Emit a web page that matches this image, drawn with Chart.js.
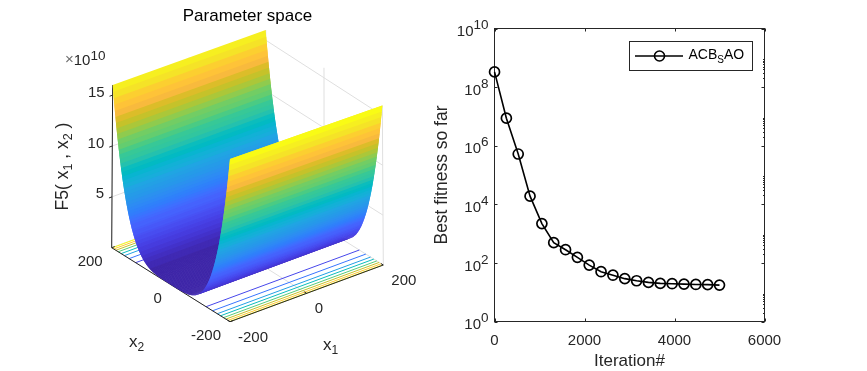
<!DOCTYPE html>
<html>
<head>
<meta charset="utf-8">
<title>Parameter space</title>
<script src="https://cdn.jsdelivr.net/npm/chart.js@4"></script>
<style>
  html, body { margin: 0; padding: 0; background: #fff; overflow: hidden; }
  #wrap { position: relative; width: 867px; height: 371px; overflow: hidden; }
  canvas { position: absolute; top: 0; }
  #surface-chart { left: 0; }
  #fitness-chart { left: 420px; }
</style>
</head>
<body>
<div id="wrap">
  <canvas id="surface-chart" width="495" height="371"></canvas>
  <canvas id="fitness-chart" width="447" height="372"></canvas>
</div>
<script>
// fitness curve (right)
const iterations = [1, 264, 527, 790, 1053, 1316, 1579, 1842, 2105, 2368, 2632, 2895, 3158, 3421, 3684, 3947, 4211, 4474, 4737, 5000];
const fitness = [3.3e8, 8.7e6, 5.2e5, 1.9e4, 2200, 490, 282, 155, 84, 50, 38, 29, 24.6, 21.6, 20, 19.5, 18.8, 18.4, 18.1, 17.5];
const fitnessXTicks = [0, 2000, 4000, 6000];
const fitnessYExponents = [0, 2, 4, 6, 8, 10];
const minorMultipliers = [2, 3, 4, 5, 6, 7, 8, 9];

// surface (left), heights in units of 1e10 for |x2| = 0, 2, 4 ... 200
const surfaceHeights = [
  0, 0, 0, 0, 0, 0, 0, 0, 0.001, 0.001,
  0.002, 0.002, 0.003, 0.005, 0.006, 0.008, 0.010, 0.013, 0.017, 0.021,
  0.026, 0.031, 0.037, 0.045, 0.053, 0.063, 0.073, 0.085, 0.098, 0.113,
  0.130, 0.148, 0.168, 0.190, 0.214, 0.240, 0.269, 0.300, 0.334, 0.370,
  0.410, 0.452, 0.498, 0.547, 0.600, 0.656, 0.716, 0.781, 0.849, 0.922,
  1.000, 1.082, 1.170, 1.262, 1.360, 1.464, 1.574, 1.689, 1.811, 1.939,
  2.074, 2.215, 2.364, 2.520, 2.684, 2.856, 3.036, 3.224, 3.421, 3.627,
  3.842, 4.066, 4.300, 4.544, 4.798, 5.063, 5.338, 5.624, 5.922, 6.232,
  6.554, 6.887, 7.234, 7.593, 7.966, 8.352, 8.752, 9.166, 9.595, 10.039,
  10.498, 10.972, 11.462, 11.969, 12.492, 13.032, 13.590, 14.165, 14.758, 15.370,
  16.000
];
const x1Ticks = [-200, 0, 200];
const x2Ticks = [-200, 0, 200];
const zTicks = [5, 10, 15];
const zTop = 16;
const contourLevels = [2, 4, 6, 8, 10, 12, 14, 16];
const contourOffsets = [119, 141, 157, 168, 178, 186, 193, 199];

const parula = [
  [.2422,.1504,.6603],[.2504,.1650,.7076],[.2578,.1818,.7511],[.2647,.1978,.7952],[.2706,.2147,.8364],[.2751,.2342,.8710],[.2783,.2559,.8991],[.2803,.2782,.9221],
  [.2813,.3006,.9414],[.2810,.3228,.9579],[.2795,.3447,.9717],[.2760,.3667,.9829],[.2699,.3892,.9906],[.2602,.4123,.9952],[.2440,.4358,.9988],[.2206,.4603,.9973],
  [.1963,.4847,.9892],[.1834,.5074,.9798],[.1786,.5289,.9682],[.1764,.5499,.9520],[.1687,.5703,.9359],[.1540,.5902,.9218],[.1460,.6091,.9079],[.1380,.6276,.8973],
  [.1248,.6459,.8883],[.1113,.6635,.8763],[.0952,.6798,.8598],[.0689,.6948,.8394],[.0297,.7082,.8163],[.0036,.7203,.7917],[.0067,.7312,.7660],[.0433,.7411,.7394],
  [.0964,.7500,.7120],[.1408,.7584,.6842],[.1717,.7670,.6554],[.1938,.7758,.6251],[.2161,.7843,.5923],[.2470,.7918,.5567],[.2906,.7973,.5188],[.3406,.8008,.4789],
  [.3909,.8029,.4354],[.4456,.8024,.3909],[.5044,.7993,.3480],[.5616,.7942,.3045],[.6174,.7876,.2612],[.6720,.7793,.2227],[.7242,.7698,.1910],[.7738,.7598,.1646],
  [.8203,.7498,.1535],[.8634,.7406,.1596],[.9035,.7330,.1774],[.9393,.7288,.2100],[.9728,.7298,.2394],[.9956,.7434,.2371],[.9970,.7659,.2199],[.9952,.7893,.2028],
  [.9892,.8136,.1885],[.9786,.8386,.1766],[.9676,.8639,.1643],[.9610,.8890,.1537],[.9597,.9135,.1423],[.9628,.9373,.1265],[.9691,.9606,.1064],[.9769,.9839,.0805]
];

const fontFamily = '"Liberation Sans", Arial, sans-serif';
const textColor = "#262626";
const gridColor = "#dfdfdf";

function parulaColor(z) {
  const index = Math.min(63, Math.floor((z / zTop) * 64));
  const [r, g, b] = parula[index];
  return `rgb(${Math.round(r * 255)}, ${Math.round(g * 255)}, ${Math.round(b * 255)})`;
}

// view of the box: floor corners, plus a slight perspective on the height
function project(x1, x2, z) {
  const a2 = (200 - x2) / 400;
  const a1 = (x1 + 200) / 400;
  const lift = 10.17 - 0.11 * a1 - 0.09 * a1 * a2;
  const lean = 0.06 - 0.06 * a2 - 0.02 * a1 - 0.04 * a1 * a2;
  return {
    x: 111.7 + a2 * 118.3 + a1 * 153.3 + z * lean,
    y: 247.7 + a2 * 74 - a1 * 56.7 - z * lift,
  };
}

function segment(from, to, color, width) {
  return {
    data: [project(...from), project(...to)],
    showLine: true,
    borderColor: color,
    borderWidth: width,
    pointRadius: 0,
    clip: false,
  };
}

// text made of runs, for sub and superscripts
function drawRuns(ctx, runs, x, y, align, angle) {
  ctx.save();
  ctx.translate(x, y);
  if (angle) ctx.rotate(angle);
  ctx.textBaseline = "middle";
  ctx.textAlign = "left";
  let total = 0;
  runs.forEach((run) => {
    ctx.font = `${run.size}px ${fontFamily}`;
    run.width = ctx.measureText(run.text).width;
    total += run.width;
  });
  let cursor = align === "right" ? -total : align === "center" ? -total / 2 : 0;
  runs.forEach((run) => {
    ctx.font = `${run.size}px ${fontFamily}`;
    ctx.fillStyle = run.color || textColor;
    ctx.fillText(run.text, cursor, run.dy || 0);
    cursor += run.width;
  });
  ctx.restore();
}

// surface chart
const x2Rows = [
  ...surfaceHeights.map((_, i) => -i * 2).reverse().slice(0, -1),
  ...surfaceHeights.map((_, i) => i * 2),
];
const zRows = [...[...surfaceHeights].reverse().slice(0, -1), ...surfaceHeights];

const surfaceSets = [];

// grid on the walls and floor
zTicks.forEach((z) => {
  surfaceSets.push(segment([-200, 200, z], [200, 200, z], gridColor, 1));
  surfaceSets.push(segment([200, 200, z], [200, -200, z], gridColor, 1));
});
x1Ticks.forEach((x1) => {
  surfaceSets.push(segment([x1, 200, 0], [x1, -200, 0], gridColor, 1));
  surfaceSets.push(segment([x1, 200, 0], [x1, 200, zTop], gridColor, 1));
});
x2Ticks.forEach((x2) => {
  surfaceSets.push(segment([-200, x2, 0], [200, x2, 0], gridColor, 1));
  surfaceSets.push(segment([200, x2, 0], [200, x2, zTop], gridColor, 1));
});

// contours on the floor
contourLevels.forEach((level, i) => {
  const color = parulaColor(level - 0.01);
  surfaceSets.push(segment([-200, contourOffsets[i], 0], [200, contourOffsets[i], 0], color, 1));
  surfaceSets.push(segment([-200, -contourOffsets[i], 0], [200, -contourOffsets[i], 0], color, 1));
});

// axes
surfaceSets.push(segment([-200, 200, 0], [-200, -200, 0], textColor, 1));
surfaceSets.push(segment([-200, -200, 0], [200, -200, 0], textColor, 1));
surfaceSets.push(segment([-200, 200, 0], [-200, 200, zTop], textColor, 1));
x1Ticks.forEach((x1) => {
  surfaceSets.push(segment([x1, -200, 0], [x1, -192, 0], textColor, 1));
});
x2Ticks.forEach((x2) => {
  surfaceSets.push(segment([-200, x2, 0], [-192, x2, 0], textColor, 1));
});
zTicks.forEach((z) => {
  surfaceSets.push(segment([-200, 200, z], [-208, 200, z], textColor, 1));
});

// far side first so the near wall covers it, each strip runs one row
// under the next one so no white shows at the seams
for (let k = x2Rows.length - 2; k >= 0; k--) {
  const under = Math.max(k - 1, 0);
  const color = parulaColor(zRows[k]);
  surfaceSets.push({
    data: [
      project(-200, x2Rows[under], zRows[under]),
      project(200, x2Rows[under], zRows[under]),
      project(200, x2Rows[k + 1], zRows[k + 1]),
      project(-200, x2Rows[k + 1], zRows[k + 1]),
      project(-200, x2Rows[under], zRows[under]),
    ],
    showLine: true,
    fill: "shape",
    backgroundColor: color,
    borderColor: color,
    borderWidth: 0,
    pointRadius: 0,
    clip: false,
  });
}

const surfaceLabels = {
  id: "surfaceLabels",
  afterDatasetsDraw(chart) {
    const { ctx } = chart;
    zTicks.forEach((z) => {
      const p = project(-200, 200, z);
      drawRuns(ctx, [{ text: String(z), size: 15 }], p.x - 8, p.y - 2.5, "right");
    });
    x2Ticks.forEach((x2) => {
      const p = project(-200, x2, 0);
      drawRuns(ctx, [{ text: String(x2), size: 15 }], p.x - 9, p.y + 14, "right");
    });
    x1Ticks.forEach((x1) => {
      const p = project(x1, -200, 0);
      drawRuns(ctx, [{ text: String(x1), size: 15 }], p.x + 8, p.y + 16, "left");
    });
    drawRuns(ctx, [
      { text: "×", size: 15, color: "#6e6e6e" },
      { text: "10", size: 15, dy: 1 },
      { text: "10", size: 13.5, dy: -4 },
    ], 65, 60, "left");
    drawRuns(ctx, [
      { text: "x", size: 17 },
      { text: "2", size: 12, dy: 6 },
    ], 129, 342, "left");
    drawRuns(ctx, [
      { text: "x", size: 17 },
      { text: "1", size: 12, dy: 6 },
    ], 323, 345, "left");
    drawRuns(ctx, [
      { text: "F5( x", size: 17.5 },
      { text: "1", size: 12.5, dy: 6 },
      { text: " , x", size: 17.5 },
      { text: "2", size: 12.5, dy: 6 },
      { text: " )", size: 17.5 },
    ], 63, 166.5, "center", -Math.PI / 2);
  },
};

new Chart(document.querySelector("#surface-chart").getContext("2d"), {
  type: "scatter",
  data: { datasets: surfaceSets.reverse() },
  options: {
    responsive: false,
    animation: false,
    events: [],
    layout: { padding: 0 },
    plugins: {
      legend: { display: false },
      tooltip: { enabled: false },
      title: {
        display: true,
        text: "Parameter space",
        color: "#000",
        font: { family: fontFamily, size: 17, weight: "normal" },
        padding: { top: 6, bottom: 3.6 },
      },
    },
    scales: {
      x: { type: "linear", min: 0, max: 495, display: false },
      y: { type: "linear", min: 30, max: 371, reverse: true, display: false },
    },
  },
  plugins: [surfaceLabels],
});

// fitness chart
const fitnessFrame = {
  id: "fitnessFrame",
  beforeDatasetsDraw(chart) {
    const { ctx, chartArea: area, scales } = chart;
    ctx.save();
    ctx.strokeStyle = textColor;
    ctx.lineWidth = 1;
    ctx.strokeRect(area.left, area.top, area.right - area.left, area.bottom - area.top);
    ctx.beginPath();
    fitnessXTicks.forEach((tick) => {
      const px = Math.round(scales.x.getPixelForValue(tick)) + 0.5;
      ctx.moveTo(px, area.bottom);
      ctx.lineTo(px, area.bottom - 3);
      ctx.moveTo(px, area.top);
      ctx.lineTo(px, area.top + 3);
    });
    fitnessYExponents.forEach((exp) => {
      const py = Math.round(scales.y.getPixelForValue(10 ** exp)) + 0.5;
      ctx.moveTo(area.left, py);
      ctx.lineTo(area.left + 3, py);
      ctx.moveTo(area.right, py);
      ctx.lineTo(area.right - 3, py);
      // minor ticks only show on the right edge
      if (exp < 10) {
        minorMultipliers.forEach((m) => {
          const my = Math.round(scales.y.getPixelForValue(m * 10 ** exp)) + 0.5;
          ctx.moveTo(area.right, my);
          ctx.lineTo(area.right - 1.5, my);
        });
      }
    });
    ctx.stroke();
    ctx.restore();
  },
  afterDatasetsDraw(chart) {
    const { ctx, chartArea: area, scales } = chart;
    fitnessYExponents.forEach((exp) => {
      const py = scales.y.getPixelForValue(10 ** exp);
      drawRuns(ctx, [
        { text: "10", size: 15, dy: 3.6 },
        { text: String(exp), size: 13.5, dy: -3 },
      ], area.left - 6, py, "right");
    });
    // legend box
    const boxLeft = area.left + 135;
    const boxTop = area.top + 13;
    ctx.save();
    ctx.fillStyle = "#fff";
    ctx.strokeStyle = textColor;
    ctx.lineWidth = 1;
    ctx.fillRect(boxLeft, boxTop, 123, 29);
    ctx.strokeRect(boxLeft, boxTop, 123, 29);
    ctx.strokeStyle = "#000";
    ctx.lineWidth = 1.6;
    ctx.beginPath();
    ctx.moveTo(boxLeft + 5.5, boxTop + 14.5);
    ctx.lineTo(boxLeft + 53.5, boxTop + 14.5);
    ctx.stroke();
    ctx.beginPath();
    ctx.arc(boxLeft + 30, boxTop + 14.5, 5, 0, Math.PI * 2);
    ctx.stroke();
    ctx.restore();
    drawRuns(ctx, [
      { text: "ACB", size: 14, color: "#000" },
      { text: "S", size: 10, dy: 5, color: "#000" },
      { text: "AO", size: 14, color: "#000" },
    ], boxLeft + 59, boxTop + 13.5, "left");
  },
};

new Chart(document.querySelector("#fitness-chart").getContext("2d"), {
  type: "scatter",
  data: {
    datasets: [
      {
        label: "ACB_SAO",
        data: iterations.map((iteration, i) => ({ x: iteration, y: fitness[i] })),
        showLine: true,
        borderColor: "#000",
        borderWidth: 1.6,
        pointRadius: 5,
        pointBorderWidth: 1.7,
        pointBorderColor: "#000",
        pointBackgroundColor: "rgba(0, 0, 0, 0)",
        clip: false,
      },
    ],
  },
  options: {
    responsive: false,
    animation: false,
    events: [],
    layout: { padding: { top: 28.5, right: 102.5, bottom: 0, left: 0 } },
    plugins: { legend: { display: false }, tooltip: { enabled: false } },
    scales: {
      x: {
        type: "linear",
        min: 0,
        max: 6000,
        afterBuildTicks: (scale) => {
          scale.ticks = fitnessXTicks.map((value) => ({ value }));
        },
        afterFit: (scale) => {
          scale.height = 50.5;
        },
        grid: { display: false },
        border: { display: false },
        ticks: {
          color: textColor,
          font: { family: fontFamily, size: 15 },
          padding: 2,
          maxRotation: 0,
          callback: (value) => String(value),
        },
        title: {
          display: true,
          text: "Iteration#",
          color: textColor,
          font: { family: fontFamily, size: 17 },
          padding: { top: 0, bottom: 0 },
        },
      },
      y: {
        type: "logarithmic",
        min: 1,
        max: 1e10,
        afterFit: (scale) => {
          scale.width = 74.5;
        },
        grid: { display: false },
        border: { display: false },
        ticks: { display: false },
        title: {
          display: true,
          text: "Best fitness so far",
          color: textColor,
          font: { family: fontFamily, size: 17.5 },
          padding: { top: 12, bottom: 0 },
        },
      },
    },
  },
  plugins: [fitnessFrame],
});
</script>
</body>
</html>
